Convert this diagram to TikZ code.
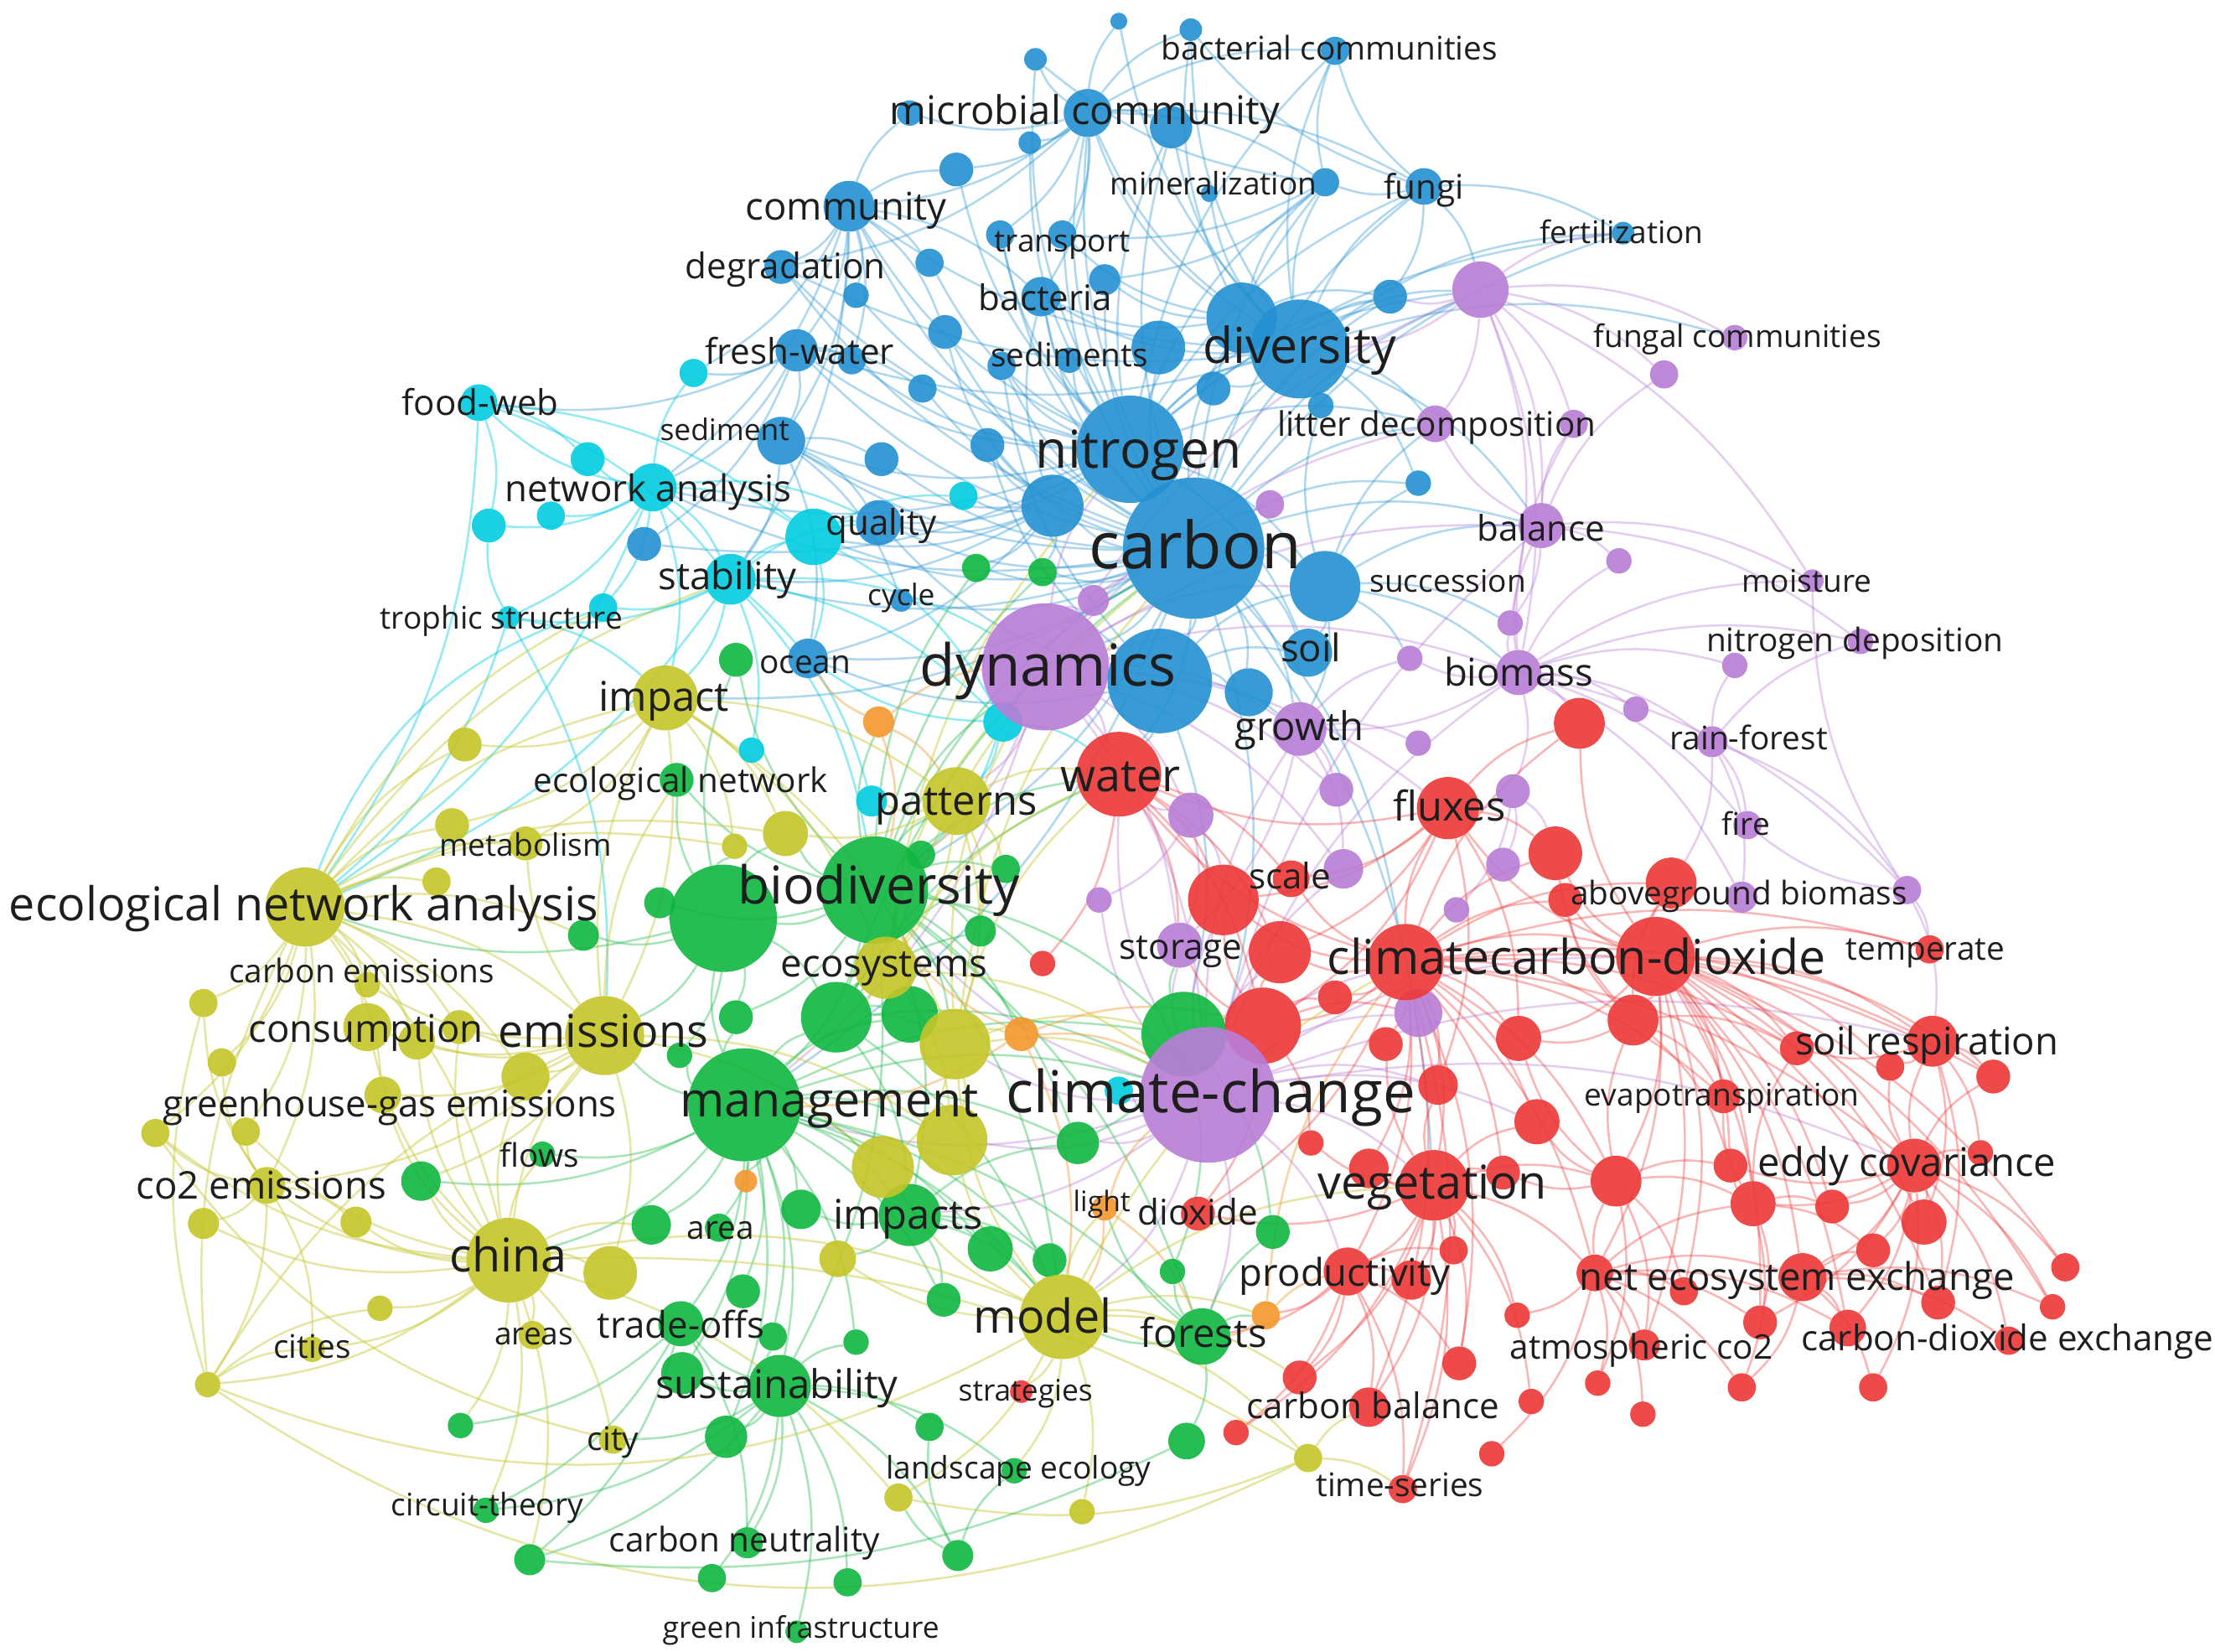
\documentclass[tikz,border=0pt]{standalone}
\usepackage{fontspec}
\setmainfont{Open Sans}
\definecolor{cB}{RGB}{35,145,210}
\definecolor{cC}{RGB}{0,205,225}
\definecolor{cP}{RGB}{185,125,215}
\definecolor{cR}{RGB}{238,55,55}
\definecolor{cG}{RGB}{15,182,65}
\definecolor{cY}{RGB}{197,197,40}
\definecolor{cO}{RGB}{245,150,45}
\definecolor{txt}{RGB}{30,30,30}
\pgfdeclarelayer{edges}
\pgfdeclarelayer{labels}
\pgfsetlayers{edges,main,labels}
\tikzset{
  kw/.style={circle, inner sep=0pt, draw=none, fill opacity=0.9},
  lab/.style={inner sep=0pt, text=txt, text height=0.75em, text depth=0.25em, anchor=center},
  eB/.style={draw=cB, draw opacity=0.36, line width=1.5pt},
  eC/.style={draw=cC, draw opacity=0.42, line width=1.5pt},
  eP/.style={draw=cP, draw opacity=0.38, line width=1.5pt},
  eR/.style={draw=cR, draw opacity=0.36, line width=1.5pt},
  eG/.style={draw=cG, draw opacity=0.36, line width=1.5pt},
  eY/.style={draw=cY, draw opacity=0.42, line width=1.5pt},
  eO/.style={draw=cO, draw opacity=0.42, line width=1.5pt}
}
\newcommand\mykw[5]{\node[kw, fill=#5, minimum size={2*#4}] (#1) at (#2,#3) {};}
\newcommand\mylab[5]{\node[lab, font=\fontsize{#4}{#4}\selectfont, yshift={-0.3*#4}] (#1) at (#2,#3) {#5};}
\newcommand\myhub[3]{\foreach \tg in {#3} {\draw[#1] (#2) to[bend left=16] (\tg);}}
\begin{document}
\begin{tikzpicture}[x=1pt,y=-1pt]
\begin{pgfonlayer}{edges}
\fill[white] (0,0) rectangle (1568,1169);
\end{pgfonlayer}
\useasboundingbox (0,0) rectangle (1568,1169);
% ---------- blue ----------
\mykw{bt1}{792}{15}{6}{cB}
\mykw{bt2}{843}{21}{8}{cB}
\mykw{bactcom}{945}{36}{10}{cB}
\mykw{bt3}{733}{42}{8}{cB}
\mykw{micro}{770}{80}{17}{cB}
\mykw{micro2}{829}{90}{15}{cB}
\mykw{micro3}{644}{80}{9}{cB}
\mykw{bt4}{729}{101}{8}{cB}
\mykw{bt5}{677}{120}{12}{cB}
\mykw{community}{601}{146}{18}{cB}
\mykw{transA}{708}{166}{10}{cB}
\mykw{transB}{752}{166}{10}{cB}
\mykw{bt6}{658}{186}{10}{cB}
\mykw{degradation}{553}{189}{12}{cB}
\mykw{bt7}{606}{209}{9}{cB}
\mykw{bt8}{669}{235}{12}{cB}
\mykw{bacteria}{737}{210}{14}{cB}
\mykw{bt9}{782}{198}{11}{cB}
\mykw{freshwater}{564}{248}{15}{cB}
\mykw{bt10}{603}{255}{10}{cB}
\mykw{bt11}{653}{275}{10}{cB}
\mykw{sediments}{709}{259}{10}{cB}
\mykw{bt12}{757}{255}{9}{cB}
\mykw{sediment}{553}{312}{17}{cB}
\mykw{bt13}{624}{325}{12}{cB}
\mykw{bt14}{699}{315}{12}{cB}
\mykw{mineral}{938}{129}{10}{cB}
\mykw{bt17}{856}{137}{6}{cB}
\mykw{fungi}{1008}{132}{13}{cB}
\mykw{fertil}{1149}{165}{8}{cB}
\mykw{bt15}{984}{210}{12}{cB}
\mykw{bt16}{1004}{342}{9}{cB}
\mykw{quality}{622}{370}{16}{cB}
\mykw{bq2}{456}{385}{12}{cB}
\mykw{ocean}{572}{466}{14}{cB}
\mykw{cycle}{638}{425}{8}{cB}
\mykw{bD3}{820}{246}{19}{cB}
\mykw{bD2}{879}{225}{25}{cB}
\mykw{bD4}{859}{275}{12}{cB}
\mykw{bD5}{935}{287}{9}{cB}
\mykw{diversity}{920}{247}{35}{cB}
\mykw{bN2}{745}{358}{22}{cB}
\mykw{nitrogen}{800}{318}{38}{cB}
\mykw{succession}{938}{415}{25}{cB}
% ---------- cyan ----------
\mykw{foodweb}{339}{285}{13}{cC}
\mykw{cA}{346}{372}{12}{cC}
\mykw{cB}{390}{365}{10}{cC}
\mykw{cC}{416}{325}{12}{cC}
\mykw{netan}{462}{345}{17}{cC}
\mykw{cD}{491}{264}{10}{cC}
\mykw{cE}{576}{380}{20}{cC}
\mykw{cF}{682}{351}{10}{cC}
\mykw{stability}{517}{410}{18}{cC}
\mykw{cG}{427}{430}{10}{cC}
\mykw{trophic}{360}{437}{8}{cC}
\mykw{cH}{710}{511}{14}{cC}
\mykw{cI}{532}{531}{9}{cC}
\mykw{cJ}{617}{567}{11}{cC}
% ---------- purple ----------
\mykw{pA}{1048}{205}{20}{cP}
\mykw{fungalcom}{1228}{239}{9}{cP}
\mykw{pB}{1178}{265}{10}{cP}
\mykw{litterA}{1016}{300}{13}{cP}
\mykw{litterB}{1114}{300}{10}{cP}
\mykw{pC}{899}{357}{10}{cP}
\mykw{balance}{1091}{372}{16}{cP}
\mykw{pD}{1146}{397}{9}{cP}
\mykw{moisture}{1283}{411}{8}{cP}
\mykw{pE}{1069}{441}{9}{cP}
\mykw{ndepA}{1317}{454}{9}{cP}
\mykw{ndepB}{1228}{471}{9}{cP}
\mykw{pF}{998}{466}{9}{cP}
\mykw{biomass}{1075}{476}{16}{cP}
\mykw{pG}{1158}{502}{9}{cP}
\mykw{growth}{920}{516}{19}{cP}
\mykw{pH}{1004}{526}{9}{cP}
\mykw{rainforest}{1212}{525}{11}{cP}
\mykw{pI}{843}{577}{16}{cP}
\mykw{pJ}{946}{559}{12}{cP}
\mykw{pK}{1071}{560}{12}{cP}
\mykw{fire}{1237}{584}{10}{cP}
\mykw{pL}{1064}{612}{12}{cP}
\mykw{pM}{951}{615}{14}{cP}
\mykw{pN}{1031}{644}{9}{cP}
\mykw{agbA}{1233}{635}{11}{cP}
\mykw{agbB}{1350}{630}{10}{cP}
\mykw{storage}{835}{669}{16}{cP}
\mykw{pO}{1004}{717}{17}{cP}
\mykw{pP}{774}{425}{11}{cP}
\mykw{pQ}{778}{637}{9}{cP}
\mykw{dynamics}{740}{472}{45}{cP}
\mykw{bdyn}{821}{482}{37}{cB}
\mykw{soil}{926}{462}{17}{cB}
\mykw{bsoil2}{884}{490}{17}{cB}
\mykw{carbon}{845}{388}{50}{cB}
% ---------- red ----------
\mykw{water}{792}{548}{30}{cR}
\mykw{rA}{1118}{512}{18}{cR}
\mykw{fluxes}{1025}{572}{22}{cR}
\mykw{rB}{1101}{604}{19}{cR}
\mykw{scale}{914}{622}{13}{cR}
\mykw{rC}{866}{637}{25}{cR}
\mykw{aboveg}{1108}{637}{12}{cR}
\mykw{rD}{1183}{625}{18}{cR}
\mykw{rE}{906}{674}{22}{cR}
\mykw{climcarb}{995}{681}{27}{cR}
\mykw{carbdiox}{1172}{677}{28}{cR}
\mykw{temperate}{1366}{672}{10}{cR}
\mykw{rF}{945}{706}{12}{cR}
\mykw{rG}{894}{726}{27}{cR}
\mykw{rH}{981}{739}{12}{cR}
\mykw{rI}{1075}{735}{16}{cR}
\mykw{rJ}{1156}{722}{18}{cR}
\mykw{soilresp}{1368}{737}{18}{cR}
\mykw{rK}{1272}{742}{12}{cR}
\mykw{rL}{1338}{755}{10}{cR}
\mykw{rM}{1411}{762}{12}{cR}
\mykw{rN}{1018}{768}{14}{cR}
\mykw{rO}{1220}{776}{12}{cR}
\mykw{rP}{1088}{794}{16}{cR}
\mykw{rQ}{928}{809}{9}{cR}
\mykw{eddy}{1355}{825}{19}{cR}
\mykw{rR}{1225}{825}{12}{cR}
\mykw{rS}{1402}{816}{9}{cR}
\mykw{vegetation}{1015}{839}{25}{cR}
\mykw{rT}{969}{827}{14}{cR}
\mykw{rU}{1064}{830}{12}{cR}
\mykw{rV}{1144}{836}{18}{cR}
\mykw{rW}{1241}{852}{16}{cR}
\mykw{rX}{1297}{854}{12}{cR}
\mykw{rY}{1362}{865}{16}{cR}
\mykw{dioxide}{848}{859}{12}{cR}
\mykw{rZ}{1029}{885}{10}{cR}
\mykw{ra}{1326}{885}{12}{cR}
\mykw{rb}{1462}{897}{10}{cR}
\mykw{productivity}{954}{900}{17}{cR}
\mykw{rc}{999}{906}{14}{cR}
\mykw{net}{1129}{901}{13}{cR}
\mykw{rd}{1276}{904}{17}{cR}
\mykw{re}{1192}{914}{10}{cR}
\mykw{rf}{1372}{922}{12}{cR}
\mykw{rg}{1453}{925}{9}{cR}
\mykw{rh}{1074}{931}{9}{cR}
\mykw{ri}{1246}{936}{12}{cR}
\mykw{rj}{1308}{940}{13}{cR}
\mykw{rk}{1422}{949}{10}{cR}
\mykw{rl}{1164}{952}{11}{cR}
\mykw{rm}{920}{975}{12}{cR}
\mykw{rn}{1033}{965}{12}{cR}
\mykw{ro}{1131}{979}{9}{cR}
\mykw{rp}{1233}{982}{10}{cR}
\mykw{rq}{1326}{982}{10}{cR}
\mykw{cbal}{969}{996}{14}{cR}
\mykw{rr}{1084}{992}{9}{cR}
\mykw{rs}{1163}{1001}{9}{cR}
\mykw{rt}{875}{1014}{9}{cR}
\mykw{ru}{1056}{1029}{9}{cR}
\mykw{timeseries}{993}{1054}{10}{cR}
\mykw{strategies}{723}{985}{8}{cR}
\mykw{rv}{738}{682}{9}{cR}
% ---------- green ----------
\mykw{gC}{691}{402}{10}{cG}
\mykw{gD}{738}{405}{10}{cG}
\mykw{gE}{521}{467}{12}{cG}
\mykw{ecolnet}{479}{552}{12}{cG}
\mykw{gF}{652}{605}{10}{cG}
\mykw{gG}{712}{615}{10}{cG}
\mykw{gH}{467}{639}{11}{cG}
\mykw{gI}{413}{662}{11}{cG}
\mykw{gJ}{694}{659}{11}{cG}
\mykw{gA}{512}{650}{38}{cG}
\mykw{biodiversity}{619}{630}{38}{cG}
\mykw{gK}{592}{720}{25}{cG}
\mykw{gL}{644}{718}{20}{cG}
\mykw{gM}{521}{720}{12}{cG}
\mykw{gN}{481}{747}{9}{cG}
\mykw{management}{527}{782}{40}{cG}
\mykw{gB}{838}{732}{30}{cG}
\mykw{gO}{763}{809}{15}{cG}
\mykw{gP}{298}{836}{14}{cG}
\mykw{gflows}{384}{817}{9}{cG}
\mykw{gQ}{567}{856}{14}{cG}
\mykw{impacts}{644}{860}{22}{cG}
\mykw{gR}{461}{867}{14}{cG}
\mykw{area}{509}{869}{10}{cG}
\mykw{gS}{701}{884}{16}{cG}
\mykw{gT}{743}{892}{12}{cG}
\mykw{gU}{526}{914}{12}{cG}
\mykw{gV}{668}{920}{12}{cG}
\mykw{gW}{482}{937}{16}{cG}
\mykw{gX}{547}{946}{10}{cG}
\mykw{gY}{606}{950}{9}{cG}
\mykw{gZ}{483}{972}{15}{cG}
\mykw{sustain}{552}{981}{22}{cG}
\mykw{ga}{658}{1010}{10}{cG}
\mykw{gb}{514}{1017}{15}{cG}
\mykw{gc}{718}{1041}{9}{cG}
\mykw{cneutral}{529}{1092}{11}{cG}
\mykw{gd}{678}{1101}{11}{cG}
\mykw{ge}{504}{1117}{10}{cG}
\mykw{gf}{600}{1120}{10}{cG}
\mykw{greeninf}{564}{1155}{8}{cG}
\mykw{gg}{326}{1009}{9}{cG}
\mykw{circuit}{344}{1069}{9}{cG}
\mykw{gh}{375}{1104}{11}{cG}
\mykw{gi}{901}{872}{12}{cG}
\mykw{gj}{830}{900}{9}{cG}
\mykw{forests}{851}{946}{20}{cG}
\mykw{gk}{840}{1020}{13}{cG}
% ---------- yellow ----------
\mykw{ena}{216}{642}{28}{cY}
\mykw{impact}{471}{494}{23}{cY}
\mykw{patterns}{677}{567}{24}{cY}
\mykw{yA}{556}{590}{16}{cY}
\mykw{yB}{520}{599}{9}{cY}
\mykw{ecosys}{627}{685}{22}{cY}
\mykw{yC}{676}{739}{25}{cY}
\mykw{emissions}{428}{733}{28}{cY}
\mykw{yD}{674}{807}{25}{cY}
\mykw{yE}{625}{826}{22}{cY}
\mykw{yF}{593}{891}{13}{cY}
\mykw{yG}{432}{901}{19}{cY}
\mykw{model}{752}{932}{30}{cY}
\mykw{yH}{329}{527}{12}{cY}
\mykw{yI}{320}{584}{12}{cY}
\mykw{metab}{372}{597}{12}{cY}
\mykw{yJ}{309}{624}{10}{cY}
\mykw{yK}{144}{710}{10}{cY}
\mykw{cemis}{260}{697}{9}{cY}
\mykw{consum}{260}{727}{17}{cY}
\mykw{yL}{295}{737}{13}{cY}
\mykw{yM}{325}{727}{12}{cY}
\mykw{yN}{157}{752}{10}{cY}
\mykw{yO}{372}{762}{17}{cY}
\mykw{yP}{271}{775}{13}{cY}
\mykw{yQ}{110}{802}{10}{cY}
\mykw{yR}{174}{801}{10}{cY}
\mykw{co2em}{189}{839}{13}{cY}
\mykw{yS}{144}{866}{11}{cY}
\mykw{yT}{252}{865}{11}{cY}
\mykw{china}{360}{892}{30}{cY}
\mykw{yU}{269}{926}{9}{cY}
\mykw{cities}{221}{955}{9}{cY}
\mykw{areas}{377}{945}{10}{cY}
\mykw{yV}{147}{980}{9}{cY}
\mykw{city}{434}{1019}{10}{cY}
\mykw{landscape}{636}{1060}{10}{cY}
\mykw{yW}{766}{1070}{9}{cY}
\mykw{yX}{926}{1032}{10}{cY}
% ---------- orange ----------
\mykw{oA}{622}{511}{11}{cO}
\mykw{oB}{723}{732}{12}{cO}
\mykw{oC}{528}{836}{8}{cO}
\mykw{light}{782}{855}{9}{cO}
\mykw{oD}{896}{931}{10}{cO}
\mykw{cK}{792}{772}{10}{cC}
\mykw{climatechange}{855}{775}{48}{cP}
% ---------- edges ----------
\begin{pgfonlayer}{edges}
\myhub{eB}{carbon}{nitrogen,diversity,bD2,bD3,micro,micro2,community,bacteria,freshwater,sediment,bt13,bt14,succession,soil,bsoil2,bdyn,quality,ocean,mineral,fungi,fertil,bt15,bt16,bt9,sediments,transA,transB,degradation,bt8,bt11,cE,stability,dynamics,climatechange,water,biodiversity,management,balance,litterA,growth,pA,gC,gD,cycle,bN2,netan,impact,vegetation,climcarb}
\myhub{eB}{nitrogen}{diversity,micro,micro2,community,bacteria,bt5,bt6,bt7,bt10,freshwater,sediment,mineral,fungi,bactcom,bt3,bt4,transA,sediments,bt12,quality,bq2,netan,soil,succession,litterA,pA,bt15,fertil,degradation}
\myhub{eB}{diversity}{micro,micro2,bactcom,bt1,bt2,fungi,mineral,community,bacteria,pA,fungalcom,litterA,bt15,bt16,balance,fertil,bD4,bD5,degradation,freshwater,bt17}
\myhub{eB}{micro}{bt1,bt2,bactcom,bt3,bt4,micro2,micro3,community,bt5,transA,transB,bacteria,mineral,fungi,degradation}
\myhub{eB}{community}{micro3,bt5,degradation,bt6,bt7,freshwater,sediment,cD,bt8,stability,netan,bt10,bacteria}
\myhub{eB}{bdyn}{succession,soil,bsoil2,growth,water,gB,quality,ocean,sediments,bt14}
\myhub{eB}{fungi}{bt2,bactcom,fertil,pA,mineral,bt15}
\myhub{eB}{mineral}{bactcom,bt3,transB,bt9}
\myhub{eB}{freshwater}{sediment,bt10,bt11,foodweb,cD,bq2,netan}
\myhub{eB}{sediment}{bt13,quality,stability,ocean,cycle}
\myhub{eB}{bN2}{quality,cF,gC,gD,ocean,cE,stability,bt14,sediment,bacteria,bt8}
\myhub{eB}{succession}{soil,balance,pE,pF,biomass,growth,litterA,bD5,bt16}
\myhub{eB}{bD2}{micro,bt2,bt9,transB,bacteria,mineral,bt15}
\myhub{eC}{netan}{foodweb,cA,cB,cC,cD,cE,stability,cG,trophic,quality,ena,impact}
\myhub{eC}{foodweb}{cC,cA,cE,stability,ena}
\myhub{eC}{stability}{cE,cG,trophic,cI,cJ,quality,impact,biodiversity,dynamics,ena,cH}
\myhub{eC}{trophic}{ena,cA,impact,emissions}
\myhub{eC}{cE}{cF,cH,quality,ocean}
\myhub{eC}{cH}{dynamics,water,carbon,patterns,biodiversity,ocean}
\myhub{eP}{dynamics}{carbon,nitrogen,pP,pI,growth,storage,water,pA,biomass,balance,litterA,climatechange,pC,pM,succession,bdyn,fluxes,biodiversity,management,patterns,pJ}
\myhub{eP}{climatechange}{storage,pO,rG,gB,rC,rE,vegetation,climcarb,biomass,balance,pM,water,management,biodiversity,model,impacts,forests,productivity,rN,rP,gO,yC,yD,carbdiox,growth,pQ,cK,eddy,soilresp}
\myhub{eP}{pA}{fungalcom,pB,litterA,litterB,balance,fertil,biomass,bt15,diversity,pE,moisture}
\myhub{eP}{biomass}{balance,pD,pE,pF,pG,rainforest,fire,ndepB,moisture,ndepA,agbA,agbB,rA,litterB,pK,growth}
\myhub{eP}{balance}{litterA,litterB,pD,moisture,pE,ndepA,pB}
\myhub{eP}{rainforest}{fire,agbA,ndepB,ndepA,rD,agbB}
\myhub{eP}{agbB}{temperate,soilresp,fire,moisture}
\myhub{eP}{growth}{pH,pJ,pF,storage,pM}
\myhub{eP}{pI}{storage,pQ,water,rC}
\myhub{eP}{pK}{pL,fluxes,rB,pN}
\myhub{eR}{climcarb}{fluxes,rB,rC,rE,rF,rG,rH,rI,rJ,carbdiox,vegetation,rN,rP,rT,rU,rV,productivity,scale,aboveg,rA,rD,rO,eddy,soilresp,net,cbal,rn,rM,temperate,rK,timeseries,water,dioxide}
\myhub{eR}{carbdiox}{rD,rI,rJ,rK,rL,rM,soilresp,rO,rR,rV,eddy,rW,rX,rY,net,rd,rf,ri,rj,rb,rg,temperate,aboveg,rA,fluxes,rB,re,rl}
\myhub{eR}{vegetation}{rN,rP,rT,rU,rV,rZ,productivity,rc,cbal,rm,rn,net,rh,rr,timeseries,rQ,dioxide,rH,rt}
\myhub{eR}{eddy}{soilresp,rL,rM,rS,rW,rX,rY,ra,rb,rd,rf,rg,rk,rR,rj,rq,ri}
\myhub{eR}{net}{rV,rd,re,rh,rl,ro,rs,ri,rp,rj,ru,rW}
\myhub{eR}{fluxes}{rA,rB,water,scale,rC,rE,rG,rN,rI}
\myhub{eR}{productivity}{rc,rm,rn,cbal,rZ,timeseries,rt,oD,forests}
\myhub{eR}{water}{rC,scale,rE,rG,rv,storage}
\myhub{eR}{rd}{ra,rf,rj,rp,rq,rk,rg}
\myhub{eR}{soilresp}{rK,rL,rM,rS,rY,rf}
\myhub{eR}{rG}{rC,rE,storage,gB,rF,rQ,dioxide,pO}
\myhub{eR}{rV}{rR,rW,re,rl,rP,rU,ro,rI,rJ}
\myhub{eR}{rW}{rR,rX,ri,rp,rK,rO,ra}
\myhub{eR}{rJ}{rI,rK,rO,rD,rB,aboveg,rR}
\myhub{eG}{biodiversity}{gA,management,gK,gL,gF,gG,gJ,ecolnet,gE,gC,gD,yA,patterns,ecosys,impacts,sustain,gM,gH,gO,gB,yC,forests,model,dynamics,carbon,water,rv,oB,oA}
\myhub{eG}{management}{gA,gK,gL,gM,gN,impacts,gQ,gR,area,gS,gU,gV,gW,gX,gY,sustain,gZ,gb,yE,yD,emissions,china,model,gO,gT,forests,oC,gflows,gP,gB,climatechange}
\myhub{eG}{gA}{gH,gI,gM,gN,ecolnet,gE,emissions,ena,yB,yA,gK}
\myhub{eG}{sustain}{gZ,gb,cneutral,ge,gf,greeninf,ga,gd,gc,gW,gX,gY,city,circuit,gh}
\myhub{eG}{impacts}{gS,gT,gV,yF,gQ,model,gO}
\myhub{eG}{gW}{circuit,gh,gg,cneutral}
\myhub{eG}{gd}{landscape,gc,ga}
\myhub{eG}{forests}{gi,gj,gk,oD,model,light}
\myhub{eG}{gB}{gO,gi,gj,rG,storage}
\myhub{eG}{gK}{gL,yC,ecosys,gJ,gG,water,climatechange,carbon,model,impacts}
\myhub{eY}{ena}{yH,yI,metab,yJ,cemis,consum,yK,yL,yM,yN,yO,yP,yQ,yR,co2em,emissions,china,impact,yB,yA,cG,gI,stability}
\myhub{eY}{china}{yL,yM,yO,yP,yQ,yR,co2em,yS,yT,yU,cities,areas,yV,city,yG,emissions,consum,gP,gflows,gg,circuit,gh,gR,model,landscape,yX}
\myhub{eY}{emissions}{consum,yL,yM,yO,yP,co2em,cemis,impact,yG,yE,yD,gP,ecolnet,metab}
\myhub{eY}{impact}{yH,yI,metab,yA,yB,patterns,emissions,yC,ecosys}
\myhub{eY}{co2em}{yQ,yR,yS,yT,yN,cities,yV,yK}
\myhub{eY}{yV}{cities,yU,emissions,ena,yK}
\myhub{eY}{model}{yD,yE,yF,yC,forests,landscape,yW,yX,gT,gc,strategies,rm,oD,light,vegetation,climcarb}
\myhub{eY}{patterns}{yA,yC,ecosys,gF,gG,gJ,cJ,water}
\myhub{eY}{yX}{landscape,cbal,timeseries}
\myhub{eY}{yC}{yD,yE,water,dynamics,gB,climatechange,carbon,oB}
\myhub{eY}{ecosys}{gL,gK,yD,water,carbon,nitrogen,dynamics,climatechange}
\draw[eY] (yV) to[bend right=30] (yX);
\draw[eY] (yV) to[bend right=25] (model);
\draw[eY] (yQ) to[bend right=20] (city);
\draw[eG] (gh) to[bend right=15] (gk);
\draw[eC] (ena) to[bend left=25] (cG);
\myhub{eO}{oB}{climatechange,biodiversity,management,model,rG}
\myhub{eO}{oA}{dynamics,ocean,patterns,biodiversity}
\myhub{eO}{light}{climatechange,model,forests}
\myhub{eO}{oD}{forests,productivity,climcarb}
\end{pgfonlayer}
% ---------- labels ----------
\begin{pgfonlayer}{labels}
\mylab{Lbactcom}{941}{33}{23}{bacterial communities}
\mylab{Lmicro}{768}{77}{28}{microbial community}
\mylab{Lcommunity}{599}{145}{27}{community}
\mylab{Lmineral}{859}{129}{22}{mineralization}
\mylab{Lfungi}{1008}{131}{24}{fungi}
\mylab{Ltransport}{752}{169}{22}{transport}
\mylab{Lfertil}{1148}{163}{22}{fertilization}
\mylab{Ldegradation}{556}{187}{25}{degradation}
\mylab{Lbacteria}{740}{210}{25}{bacteria}
\mylab{Lfreshwater}{566}{248}{25}{fresh-water}
\mylab{Lsediments}{757}{250}{23}{sediments}
\mylab{Ldiversity}{920}{244}{35}{diversity}
\mylab{Lfungalcom}{1230}{237}{22}{fungal communities}
\mylab{Lfoodweb}{340}{284}{25}{food-web}
\mylab{Lsediment}{513}{303}{21}{sediment}
\mylab{Lnitrogen}{806}{318}{37}{nitrogen}
\mylab{Llitter}{1017}{299}{24}{litter decomposition}
\mylab{Lnetan}{459}{345}{26}{network analysis}
\mylab{Lquality}{624}{369}{25}{quality}
\mylab{Lcarbon}{846}{386}{46}{carbon}
\mylab{Lbalance}{1091}{373}{25}{balance}
\mylab{Lstability}{515}{407}{27}{stability}
\mylab{Lsuccession}{1025}{410}{22}{succession}
\mylab{Lmoisture}{1279}{410}{22}{moisture}
\mylab{Ltrophic}{355}{436}{22}{trophic structure}
\mylab{Lcycle}{638}{420}{21}{cycle}
\mylab{Lndep}{1313}{452}{23}{nitrogen deposition}
\mylab{Locean}{570}{467}{23}{ocean}
\mylab{Ldynamics}{742}{471}{41}{dynamics}
\mylab{Lsoil}{928}{458}{27}{soil}
\mylab{Lbiomass}{1075}{475}{27}{biomass}
\mylab{Limpact}{470}{492}{29}{impact}
\mylab{Lgrowth}{920}{513}{28}{growth}
\mylab{Lrainforest}{1238}{521}{23}{rain-forest}
\mylab{Lecolnet}{482}{551}{24}{ecological network}
\mylab{Lwater}{793}{548}{32}{water}
\mylab{Lpatterns}{677}{566}{29}{patterns}
\mylab{Lfluxes}{1026}{570}{29}{fluxes}
\mylab{Lfire}{1236}{582}{22}{fire}
\mylab{Lmetab}{372}{597}{22}{metabolism}
\mylab{Lbiodiv}{622}{626}{37}{biodiversity}
\mylab{Lscale}{913}{619}{25}{scale}
\mylab{Lagb}{1231}{631}{23}{aboveground biomass}
\mylab{Lena}{215}{639}{33}{ecological network analysis}
\mylab{Lstorage}{836}{669}{25}{storage}
\mylab{Lclimcarb}{1116}{677}{34}{climatecarbon-dioxide}
\mylab{Ltemperate}{1363}{670}{23}{temperate}
\mylab{Lecosys}{626}{681}{27}{ecosystems}
\mylab{Lcemis}{256}{686}{23}{carbon emissions}
\mylab{Lconsum}{259}{727}{27}{consumption}
\mylab{Lemissions}{427}{729}{32}{emissions}
\mylab{Lsoilresp}{1364}{736}{27}{soil respiration}
\mylab{Lmanagement}{587}{778}{34}{management}
\mylab{Lclimchange}{857}{773}{41}{climate-change}
\mylab{Lghg}{276}{780}{26}{greenhouse-gas emissions}
\mylab{Levapo}{1219}{774}{22}{evapotranspiration}
\mylab{Lflows}{382}{817}{23}{flows}
\mylab{Leddy}{1350}{822}{28}{eddy covariance}
\mylab{Lco2em}{185}{838}{27}{co2 emissions}
\mylab{Lveg}{1014}{836}{33}{vegetation}
\mylab{Llight}{780}{849}{20}{light}
\mylab{Ldioxide}{848}{857}{25}{dioxide}
\mylab{Limpacts}{643}{859}{29}{impacts}
\mylab{Larea}{510}{868}{23}{area}
\mylab{Lchina}{360}{888}{33}{china}
\mylab{Lprod}{952}{900}{27}{productivity}
\mylab{Lnet}{1272}{903}{27}{net ecosystem exchange}
\mylab{Ltradeoffs}{482}{937}{26}{trade-offs}
\mylab{Lmodel}{738}{931}{33}{model}
\mylab{Lforests}{852}{943}{28}{forests}
\mylab{Lareas}{378}{943}{22}{areas}
\mylab{Lcities}{221}{952}{23}{cities}
\mylab{Latmco2}{1162}{952}{24}{atmospheric co2}
\mylab{Lcdex}{1421}{946}{25}{carbon-dioxide exchange}
\mylab{Lsustain}{550}{979}{28}{sustainability}
\mylab{Lstrat}{726}{983}{21}{strategies}
\mylab{Lcbal}{972}{994}{25}{carbon balance}
\mylab{Lcity}{434}{1017}{23}{city}
\mylab{Llandscape}{721}{1038}{22}{landscape ecology}
\mylab{Ltimeseries}{991}{1050}{23}{time-series}
\mylab{Lcircuit}{345}{1064}{22}{circuit-theory}
\mylab{Lcneutral}{527}{1089}{24}{carbon neutrality}
\mylab{Lgreeninf}{567}{1151}{21}{green infrastructure}
\end{pgfonlayer}
\end{tikzpicture}
\end{document}
